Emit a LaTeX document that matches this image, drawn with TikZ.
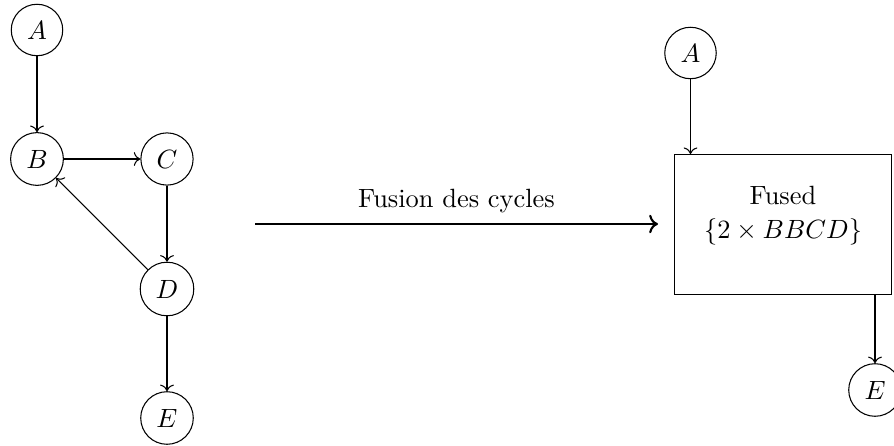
\documentclass[tikz,border=0pt]{standalone}
\usetikzlibrary{arrows.meta}
\begin{document}
\begin{tikzpicture}[x=0.3788pt,y=-0.3788pt,
  vtx/.style={circle,draw},
  edge/.style={->},
  fusedbox/.style={draw,minimum width=82pt,minimum height=53pt,align=center}]
\useasboundingbox (0,0) rectangle (894,446);
% left graph
\node[vtx] (A) at (37,30) {$A$};
\node[vtx] (B) at (37,159) {$B$};
\node[vtx] (C) at (167,159) {$C$};
\node[vtx] (D) at (167,289) {$D$};
\node[vtx] (E) at (167,418) {$E$};
\draw[edge] (A) -- (B);
\draw[edge] (B) -- (C);
\draw[edge] (C) -- (D);
\draw[edge] (D) -- (B);
\draw[edge] (D) -- (E);
% transformation arrow
\coordinate (s) at (255,224);
\coordinate (t) at (658,224);
\draw[->,thick] (s) -- node[above=0.5pt] {Fusion des cycles} (t);
% right graph
\node[vtx] (A2) at (690.5,53) {$A$};
\node[fusedbox] (F) at (783,224.5) {Fused\\[1pt]$\{2\times BBCD\}$\\[-3pt]};
\node[vtx] (E2) at (875,390) {$E$};
\draw[edge] (A2) -- (A2 |- F.north);
\draw[edge] (F.south -| E2) -- (E2);
\end{tikzpicture}
\end{document}
